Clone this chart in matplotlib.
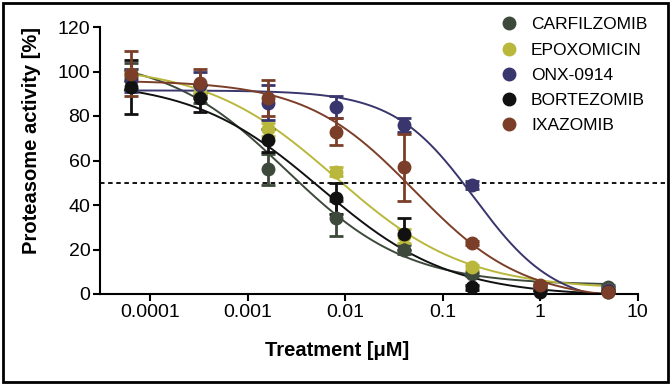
import numpy as np
import matplotlib.pyplot as plt
from matplotlib.patches import Rectangle

plt.rcParams['font.family'] = ['Liberation Sans', 'DejaVu Sans']

conc = [6.4e-5, 3.2e-4, 1.6e-3, 8e-3, 0.04, 0.2, 1, 5]
drugs = ["CARFILZOMIB", "EPOXOMICIN", "ONX-0914", "BORTEZOMIB", "IXAZOMIB"]
colors = ["#3d4a3b", "#b9b83c", "#39356d", "#111111", "#7b3e28"]

# mean activity and error per drug
carf = [98, 90, 56, 34, 20, 9, 3, 3]
carf_err = [6, 4, 7, 8, 2, 1, 1, 1]
epox = [99, 91, 74, 55, 26, 12, 3, 2]
epox_err = [2, 3, 3, 2, 3, 1, 1, 1]
onx = [96, 94, 86, 84, 76, 49, 3, 2]
onx_err = [5, 6, 8, 5, 3, 2, 1, 1]
bort = [93, 88, 69, 43, 27, 3, 1, 1]
bort_err = [12, 6, 5, 7, 7, 1, 1, 1]
ixa = [99, 95, 88, 73, 57, 23, 4, 1]
ixa_err = [10, 6, 8, 6, 15, 1, 1, 1]

# fitted curve parameters: top, bottom, IC50, hill slope
tops = [107, 103, 91.5, 96, 96]
bottoms = [4, 2, -5, -1, -3]
ic50s = [0.0025, 0.0079, 0.21, 0.0056, 0.051]
hills = [0.7, 0.65, 1.05, 0.66, 0.78]

means = [carf, epox, onx, bort, ixa]
errs = [carf_err, epox_err, onx_err, bort_err, ixa_err]

fig = plt.figure(figsize=(6.72, 3.85), dpi=100)
ax = fig.add_axes([100/672, 1-294/385, 565/672, 267/385])

xs = np.logspace(np.log10(5.5e-5), np.log10(5.2), 300)
for i in range(5):
    ys = bottoms[i] + (tops[i]-bottoms[i])/(1+(xs/ic50s[i])**hills[i])
    ax.plot(xs, ys, color=colors[i], lw=1.4, zorder=2)

for i in range(5):
    ax.errorbar(conc, means[i], yerr=errs[i], fmt="none", ecolor=colors[i],
                elinewidth=2, capsize=5, capthick=2, zorder=3)
for i in range(5):
    ax.plot(conc, means[i], "o", color=colors[i], ms=9, label=drugs[i], zorder=4,
            clip_on=False)

ax.axhline(50, color="k", ls=(0, (2.5, 2)), lw=1.3, zorder=1)

ax.set_xscale("log")
ax.set_xlim(3.05e-5, 19)
ax.set_ylim(0, 120)
ax.set_xticks([1e-4, 1e-3, 1e-2, 1e-1, 1, 10])
ax.set_xticklabels(["0.0001", "0.001", "0.01", "0.1", "1", "10"])
ax.xaxis.set_minor_locator(plt.NullLocator())
ax.set_yticks([0, 20, 40, 60, 80, 100, 120])
ax.spines["top"].set_visible(False)
ax.spines["right"].set_visible(False)
ax.spines["left"].set_linewidth(1.5)
ax.spines["bottom"].set_linewidth(1.5)
ax.spines["bottom"].set_bounds(3.05e-5, 10)
ax.tick_params(direction="out", length=5, width=1.5, labelsize=14, pad=2)

ax.legend(loc="upper left", bbox_to_anchor=(385/565, 1.095), frameon=False,
          fontsize=12.5, handletextpad=0.75, labelspacing=0.58, handlelength=1.0)

fig.text(32/672, 1-141/385, "Proteasome activity [%]", rotation=90, ha="center",
         va="center", fontsize=14.5, fontweight="bold")
fig.text(337/672, 1-350/385, "Treatment [\u03bcM]", ha="center", va="center",
         fontsize=14.5, fontweight="bold")

fig.patches.append(Rectangle((3/672, 3/385), 665/672, 379/385, transform=fig.transFigure,
                             fill=False, lw=2, ec="k"))

fig.savefig("out.png", dpi=100)
